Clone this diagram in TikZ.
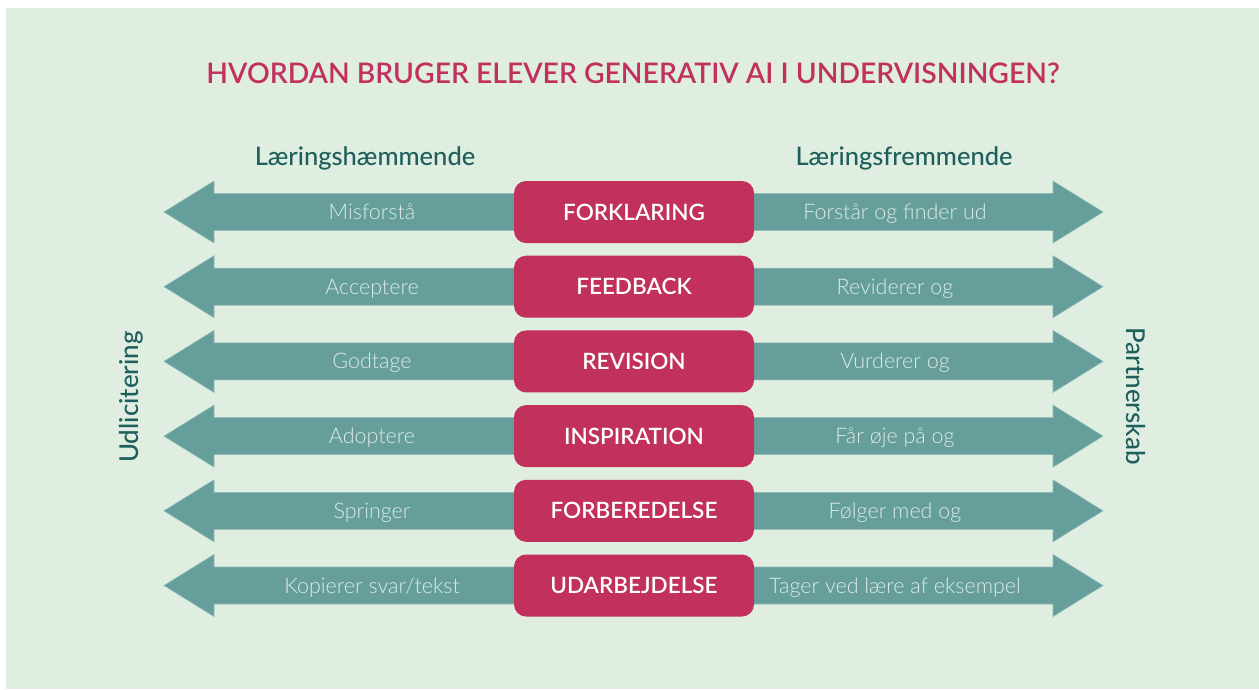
\documentclass[tikz,border=0pt]{standalone}
\usepackage{fontspec}
\setmainfont{Lato}
\newfontfamily\latolight{Lato Light}
\newfontfamily\latomed{Lato Medium}
\newfontfamily\latosemi{Lato Semibold}
\usetikzlibrary{calc}
\definecolor{bg}{HTML}{E0EEE2}
\definecolor{arrowc}{HTML}{659E9B}
\definecolor{arrowedge}{HTML}{8DBBB6}
\definecolor{boxc}{HTML}{C1315B}
\definecolor{darkteal}{HTML}{1E5F5B}
\definecolor{lighttext}{HTML}{DCEBE5}
\tikzset{
  cbox/.style={fill=boxc, rounded corners=12pt, minimum width=240pt, minimum height=62pt, inner sep=0pt},
  boxtext/.style={text=white, font=\latosemi\fontsize{22.5}{26}\selectfont, anchor=base},
  armtext/.style={text=lighttext, font=\latolight\fontsize{21.5}{25}\selectfont, anchor=base},
  header/.style={text=darkteal, font=\latomed\fontsize{25.5}{29}\selectfont, anchor=base},
  sidelabel/.style={text=darkteal, font=\latomed\fontsize{26}{30}\selectfont},
  arrowshape/.style={fill=arrowc, draw=arrowedge, line width=0.6pt, line join=miter}
}
\begin{document}
\begin{tikzpicture}[x=1pt,y=-1pt]
\useasboundingbox (0,0) rectangle (1259,689);
\fill[white] (0,0) rectangle (1259,689);
\fill[bg] (6,8) rectangle (1259,689);

\node[text=boxc, font=\latosemi\fontsize{28.3}{32}\selectfont, anchor=base] (title) at (633,83) {HVORDAN BRUGER ELEVER GENERATIV AI I UNDERVISNINGEN?};

\node[header] (hl) at (365,165) {Læringshæmmende};
\node[header] (hr) at (904,165) {Læringsfremmende};

\node[sidelabel, rotate=90] (udl) at (131,397) {Udlicitering};
\node[sidelabel, rotate=-90] (par) at (1136,396) {Partnerskab};

\foreach \i/\c/\l/\r in {
  0/FORKLARING/Misforstå/Forstår og finder ud,
  1/FEEDBACK/Acceptere/Reviderer og,
  2/REVISION/Godtage/Vurderer og,
  3/INSPIRATION/Adoptere/Får øje på og,
  4/FORBEREDELSE/Springer/Følger med og,
  5/UDARBEJDELSE/{Kopierer svar/tekst}/Tager ved lære af eksempel}{
  \pgfmathsetmacro\yy{212+74.7*\i}
  \coordinate (lt\i) at (164,\yy);
  \coordinate (rt\i) at (1103,\yy);
  \filldraw[arrowshape] (lt\i) -- ++(50,-31) -- ++(0,12.5) -- ++(839,0) -- ++(0,-12.5) -- (rt\i) -- ++(-50,31) -- ++(0,-12.5) -- ++(-839,0) -- ++(0,12.5) -- cycle;
  \node[cbox] (b\i) at (634,\yy) {};
  \node[boxtext] (bt\i) at ($(b\i.center)+(0,8)$) {\c};
  \node[armtext] (l\i) at (372,\yy+7.5) {\l};
  \node[armtext] (r\i) at (895,\yy+7.5) {\r};
}
\end{tikzpicture}
\end{document}
